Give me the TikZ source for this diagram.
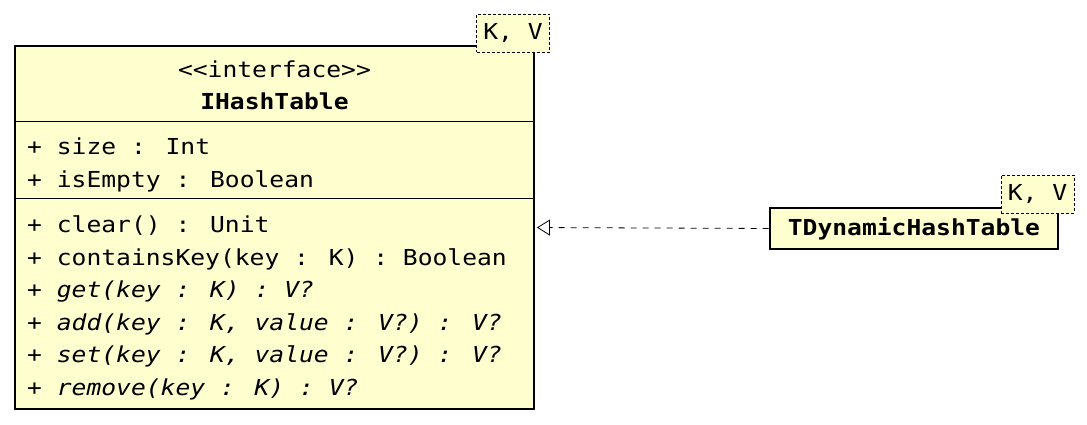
\documentclass[tikz,border=0pt]{standalone}
\usepackage{fontspec}
\setmainfont{DejaVu Sans Mono}[FakeStretch=1.12, Ligatures=TeXOff]
\usetikzlibrary{arrows.meta, positioning}
\definecolor{umlfill}{HTML}{FEFECE}
\tikzset{
  classbox/.style={draw, fill=umlfill, line width=2.8pt, inner sep=0pt},
  tparam/.style={draw, dash pattern=on 3pt off 2pt, fill=umlfill, line width=0.8pt, inner sep=0pt, minimum width=73pt, minimum height=38pt},
  member/.style={anchor=base west, inner sep=0pt},
  title/.style={anchor=base, inner sep=0pt},
  divider/.style={line width=1pt},
  realize/.style={-{Triangle[open, length=13pt, width=16pt]}, dash pattern=on 6pt off 6pt, line width=0.8pt, shorten >=1.5pt}
}

\begin{document}
\begin{tikzpicture}[x=1pt, y=-1pt, font=\fontsize{22pt}{26pt}\selectfont]
\useasboundingbox (0,0) rectangle (1087,425);

\node[classbox, minimum width=519pt, minimum height=363pt] (iface) at (274.5,227.5) {};
\coordinate (div1) at (0,122);
\coordinate (div2) at (0,198);
\draw[divider] (iface.west |- div1) -- (iface.east |- div1);
\draw[divider] (iface.west |- div2) -- (iface.east |- div2);

\node[title] (stereo) at (274.5,78) {<<interface>>};
\node[title] (iname) at (274.5,110) {\textbf{IHashTable}};

\node[member] (size) at (27,154) {+ size : Int};
\node[member] (empty) at (27,187) {+ isEmpty : Boolean};

\node[member] (clear) at (27,232) {+ clear() : Unit};
\node[member] (contains) at (27,265) {+ containsKey(key : K) : Boolean};
\node[member] (get) at (27,297) {\textit{+ get(key : K) : V?}};
\node[member] (add) at (27,330) {\textit{+ add(key : K, value : V?) : V?}};
\node[member] (set) at (27,362) {\textit{+ set(key : K, value : V?) : V?}};
\node[member] (remove) at (27,395) {\textit{+ remove(key : K) : V?}};

\node[tparam] (ifacekv) at (513,33.5) {K, V};

\node[classbox, minimum width=288pt, minimum height=41pt] (impl) at (914,228.5) {\textbf{TDynamicHashTable}};
\node[tparam] (implkv) at (1037.5,194) {K, V};

\draw[realize] (impl.west) -- (iface.east);

\end{tikzpicture}
\end{document}
